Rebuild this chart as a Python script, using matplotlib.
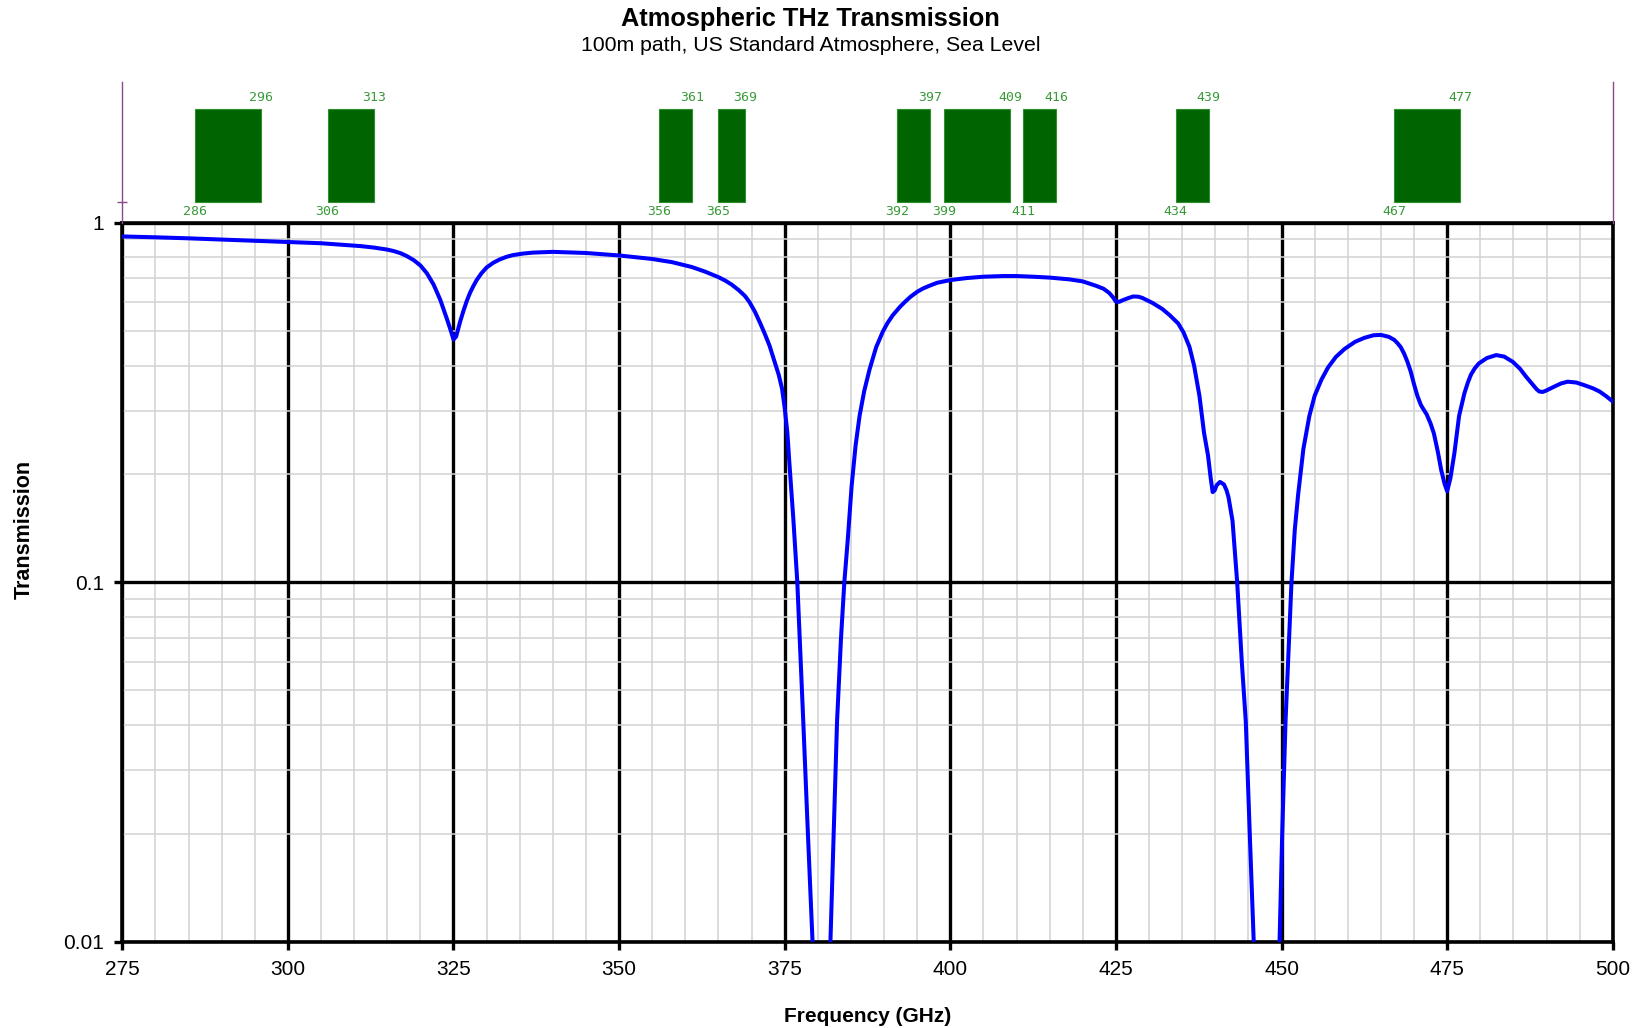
import matplotlib
matplotlib.use('Agg')
import matplotlib.pyplot as plt
from matplotlib.ticker import FixedLocator, NullFormatter, NullLocator

# transmission curve (GHz, fraction)
freq = [275, 280, 285, 290, 295, 300, 305, 308, 311, 313, 315, 316, 317, 318, 319, 320, 321,
        322, 323, 324, 324.6, 325, 325.4, 326, 326.5, 327, 327.5, 328, 328.5, 329.2, 330, 331,
        332, 333, 334, 335.5, 337, 340, 345, 350, 355, 358, 361, 363, 365, 366, 367, 368,
        369, 369.7, 370.5, 371.3, 372, 372.7, 373.3, 374.1, 374.6, 375, 375.4, 375.7, 376.3,
        376.9, 377.8, 378.5, 379.2, 380.5, 381.9, 382.9, 383.5, 384.0, 384.5, 385.1, 385.7,
        386.3, 387, 387.8, 388.8, 389.8, 390.5, 391.3, 392.4, 393.2, 394, 395, 395.9, 397,
        398, 400, 402.5, 405, 408, 410, 412.5, 415, 418, 420, 421.9, 423.1, 424, 424.6, 425,
        425.5, 426, 426.8, 427.6, 428.4, 429, 430.5, 432, 433.1, 434.4, 435.2, 436.1, 436.8,
        437.6, 438.3, 438.9, 439.3, 439.6, 439.9, 440.2, 440.7, 441.3, 441.7, 442.0, 442.6,
        443.3, 444.0, 444.6, 445.2, 445.8, 447.8, 449.7, 450.1, 450.6, 451.5, 452.0, 452.5,
        453.3, 454.2, 455.0, 456.0, 457, 458.2, 459.5, 461.1, 462.5, 463.9, 465, 466.2, 467,
        467.5, 468, 468.5, 469, 469.5, 470, 470.5, 471, 471.3, 471.9, 472.5, 473.0, 473.6,
        474.1, 474.6, 475.0, 475.5, 476.1, 476.8, 477.6, 478.1, 478.6, 479.2, 479.8, 481,
        482.4, 483.6, 484.9, 486, 486.9, 488, 488.5, 488.9, 489.4, 489.8, 490.5, 491.2,
        492.2, 493.2, 494.5, 495.7, 497, 498, 499, 500]
trans = [0.915, 0.910, 0.904, 0.897, 0.890, 0.883, 0.876, 0.868, 0.860, 0.852, 0.841, 0.833,
         0.822, 0.806, 0.786, 0.76, 0.722, 0.672, 0.61, 0.54, 0.50, 0.473, 0.482, 0.53,
         0.568, 0.605, 0.638, 0.666, 0.692, 0.722, 0.75, 0.773, 0.79, 0.803, 0.812, 0.82,
         0.825, 0.829, 0.823, 0.81, 0.792, 0.776, 0.752, 0.73, 0.705, 0.69, 0.672, 0.65,
         0.625, 0.60, 0.565, 0.525, 0.49, 0.455, 0.42, 0.377, 0.345, 0.305, 0.26, 0.215,
         0.15, 0.10, 0.041, 0.02, 0.01, 0.003, 0.01, 0.041, 0.07, 0.10, 0.13, 0.185, 0.24,
         0.29, 0.34, 0.39, 0.45, 0.497, 0.525, 0.552, 0.583, 0.603, 0.622, 0.642, 0.656,
         0.669, 0.68, 0.692, 0.701, 0.707, 0.71, 0.71, 0.707, 0.703, 0.695, 0.686, 0.668,
         0.655, 0.637, 0.618, 0.603, 0.602, 0.608, 0.616, 0.623, 0.622, 0.617, 0.598, 0.575,
         0.553, 0.524, 0.495, 0.451, 0.40, 0.33, 0.26, 0.225, 0.195, 0.178, 0.18, 0.186,
         0.19, 0.187, 0.18, 0.172, 0.148, 0.10, 0.06, 0.041, 0.02, 0.01, 0.002, 0.01, 0.02,
         0.041, 0.10, 0.14, 0.175, 0.235, 0.29, 0.33, 0.365, 0.395, 0.423, 0.445, 0.466,
         0.478, 0.486, 0.487, 0.481, 0.472, 0.462, 0.45, 0.432, 0.41, 0.385, 0.355, 0.33,
         0.312, 0.305, 0.293, 0.276, 0.259, 0.23, 0.205, 0.188, 0.179, 0.195, 0.229, 0.29,
         0.335, 0.358, 0.378, 0.394, 0.406, 0.42, 0.428, 0.424, 0.41, 0.392, 0.373, 0.353,
         0.344, 0.339, 0.338, 0.34, 0.345, 0.35, 0.357, 0.361, 0.359, 0.353, 0.346, 0.339,
         0.329, 0.318]

# transmission windows shown in the band above the plot (start, end in GHz)
win_start = [286, 306, 356, 365, 392, 399, 411, 434, 467]
win_end = [296, 313, 361, 369, 397, 409, 416, 439, 477]

x_major = [275, 300, 325, 350, 375, 400, 425, 450, 475, 500]
y_major = [0.01, 0.1, 1]
y_labels = ['0.01', '0.1', '1']

plt.rcParams['font.family'] = ['Liberation Sans', 'DejaVu Sans']

fig = plt.figure(figsize=(16.39, 10.28), dpi=100, facecolor='white')
ax = fig.add_axes([0.0746, 0.0839, 0.9094, 0.6996])

ax.set_yscale('log')
ax.set_xlim(275, 500)
ax.set_ylim(0.01, 1)

# grid: light minor lines, heavy black major lines
ax.xaxis.set_major_locator(FixedLocator(x_major))
ax.xaxis.set_minor_locator(FixedLocator(list(range(275, 501, 5))))
ax.yaxis.set_major_locator(FixedLocator(y_major))
ax.yaxis.set_minor_locator(FixedLocator([m * d for d in (0.01, 0.1) for m in range(2, 10)]))
ax.yaxis.set_minor_formatter(NullFormatter())
ax.set_xticklabels([str(v) for v in x_major])
ax.set_yticklabels(y_labels)

ax.grid(which='minor', color='#d2d2d2', linewidth=1.1, zorder=1)
ax.grid(which='major', color='black', linewidth=2.4, zorder=2)
ax.set_axisbelow(True)
for s in ax.spines.values():
    s.set_linewidth(2.6)
    s.set_color('black')

ax.tick_params(which='major', direction='out', length=6, width=2.4, labelsize=15, pad=7)
ax.tick_params(which='minor', length=0)

ax.plot(freq, trans, color='#0000ff', linewidth=2.9, zorder=3, clip_on=True)

ax.set_xlabel('Frequency (GHz)', fontsize=15, fontweight='bold', labelpad=20)
fig.text(0.015, 0.4854, 'Transmission', rotation=90, fontsize=15.5, fontweight='bold',
         ha='center', va='center')

# band of transmission windows
band = fig.add_axes([0.0746, 0.7835, 0.9094, 0.1372])
band.set_xlim(275, 500)
band.set_ylim(0, 141)
band.patch.set_alpha(0)
for side in ('top', 'bottom'):
    band.spines[side].set_visible(False)
for side in ('left', 'right'):
    band.spines[side].set_color('#8a4a8a')
    band.spines[side].set_linewidth(1.0)
band.xaxis.set_major_locator(NullLocator())
band.yaxis.set_major_locator(FixedLocator([21]))
band.set_yticklabels([])
band.tick_params(axis='y', direction='inout', length=7, width=1.0, color='#8a4a8a')

for a, b in zip(win_start, win_end):
    band.bar(a, 93, width=b - a, bottom=21, align='edge', color='#006400',
             edgecolor='#2f8f2f', linewidth=0.8)
    band.text(b, 125, str(b), ha='center', va='center', fontsize=9.5,
              family='DejaVu Sans Mono', color='#3a9a3a')
    band.text(a, 11, str(a), ha='center', va='center', fontsize=9.5,
              family='DejaVu Sans Mono', color='#3a9a3a')

fig.text(0.4945, 0.9817, 'Atmospheric THz Transmission', ha='center', va='center',
         fontsize=18.3, fontweight='bold')
fig.text(0.4945, 0.9553, '100m path, US Standard Atmosphere, Sea Level', ha='center',
         va='center', fontsize=15.3)

fig.savefig('out.png', dpi=100, facecolor='white')
